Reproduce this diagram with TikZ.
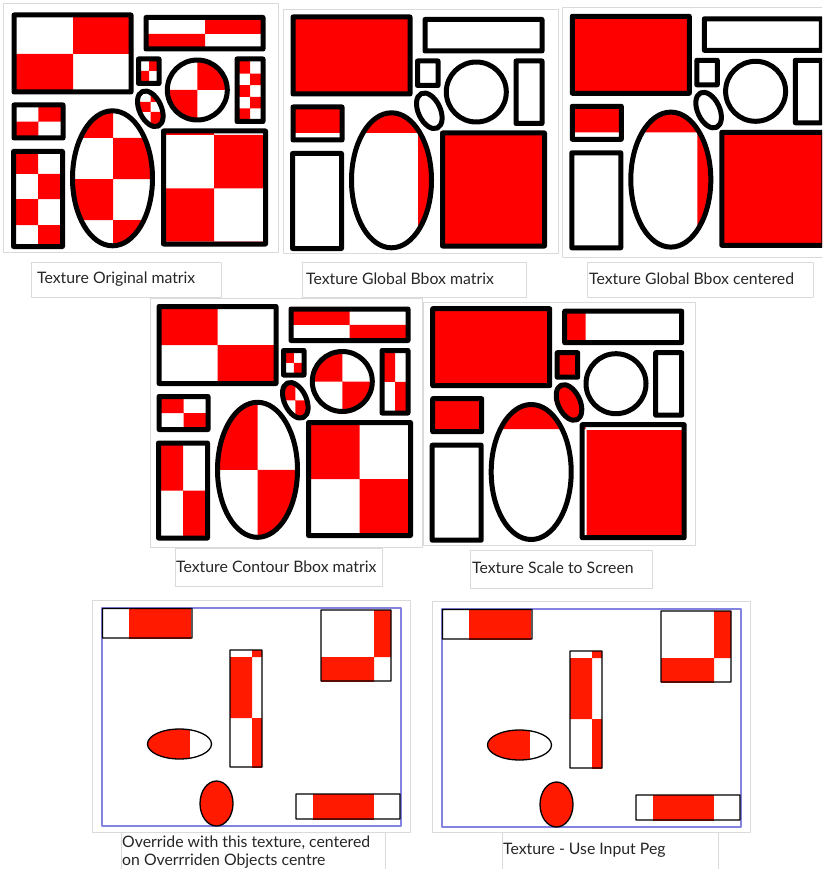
\documentclass[tikz,border=0pt]{standalone}
\usepackage{fontspec}
\setmainfont{Lato}
\usepackage{tikz}
\usepackage{xcolor}

\definecolor{texred}{HTML}{FF0000}
\definecolor{pegred}{HTML}{FF1A00}
\definecolor{frameblue}{HTML}{8484E0}
\definecolor{paneledge}{HTML}{DADADA}
\definecolor{captext}{HTML}{262626}

\newcommand{\shA}{(14,15) rectangle (131,92)}
\newcommand{\shB}{(146,17.5) rectangle (263,49)}
\newcommand{\shC}{(138.5,59) rectangle (159,83.5)}
\newcommand{\shD}{(197.3,90) circle [radius=30]}
\newcommand{\shE}{(237,59) rectangle (263,121.5)}
\newcommand{\shF}{(150.3,108.8) circle [x radius=11, y radius=19, rotate=25]}
\newcommand{\shG}{(14,105) rectangle (63,138)}
\newcommand{\shH}{(112.5,178.3) circle [x radius=40, y radius=67.5]}
\newcommand{\shI}{(13.5,151.5) rectangle (62.5,246.5)}
\newcommand{\shJ}{(163.5,131) rectangle (265.5,244)}
\newcommand{\allsh}{\shA \shB \shC \shD \shE \shF \shG \shH \shI \shJ}

\newcommand{\pgA}{(102.5,608.5) rectangle (192,638)}
\newcommand{\pgB}{(321,610) rectangle (391,681)}
\newcommand{\pgC}{(230,650) rectangle (262,767)}
\newcommand{\pgD}{(179.5,744) circle [x radius=32, y radius=15]}
\newcommand{\pgE}{(216.5,803.5) circle [x radius=16.5, y radius=22.5]}
\newcommand{\pgF}{(296,794) rectangle (400,819)}

\newcommand{\contourfill}[2]{\begin{scope}\clip #1; \fill[texred] #2 rectangle ++(-70,-80) #2 rectangle ++(70,80);\end{scope}}

\newcommand{\pegscene}{%
\draw[draw=frameblue, line width=1.2pt] (102,608) rectangle (401,826);
\begin{scope}\clip \pgA; \fill[pegred] (129,600) rectangle (191,645); \end{scope}
\begin{scope}\clip \pgB; \fill[pegred] (374,605) rectangle (395,657) (315,657) rectangle (374,685); \end{scope}
\begin{scope}\clip \pgC; \fill[pegred] (252,645) rectangle (265,657) (225,657) rectangle (252,718) (252,718) rectangle (265,770); \end{scope}
\begin{scope}\clip \pgD; \fill[pegred] (140,725) rectangle (190,765); \end{scope}
\fill[pegred] \pgE;
\begin{scope}\clip \pgF; \fill[pegred] (313,790) rectangle (374,825); \end{scope}
\draw[thinline] \pgA \pgB \pgC \pgD \pgE \pgF;
}

\begin{document}
\begin{tikzpicture}[
    x=1pt,
    y=-1pt,
    line join=round,
    font=\fontsize{15.8}{18}\selectfont,
    text=captext
]

\tikzstyle{outline}=[draw=black, line width=5pt]
\tikzstyle{thinline}=[draw=black, line width=1.3pt]
\tikzstyle{panel}=[draw=paneledge, line width=0.8pt]
\tikzstyle{caption}=[anchor=west, inner sep=0pt, align=left]

\useasboundingbox (0,0) rectangle (822,869);
\clip (0,0) rectangle (822,869);

\draw[panel] (3,3) rectangle (278,252);
\draw[panel] (283,9) rectangle (558,253);
\draw[panel] (562,7) rectangle (830,257);
\draw[panel] (150,298) rectangle (422,547);
\draw[panel] (423,302) rectangle (695,545);
\draw[panel] (92,600) rectangle (410,832);
\draw[panel] (432,601) rectangle (750,832);

\draw[panel] (31,262) rectangle (221,297);
\draw[panel] (302,262) rectangle (526,297);
\draw[panel] (587,262) rectangle (813,297);
\draw[panel] (175,548) rectangle (382,586);
\draw[panel] (470,550) rectangle (652,588);
\draw[panel] (121,832) rectangle (385,869);
\draw[panel] (502,832) rectangle (718,869);

% original matrix
\begin{scope}
\begin{scope}\clip \shA; \fill[texred] (73,0) rectangle (140,54) (0,54) rectangle (73,100); \end{scope}
\begin{scope}\clip \shB; \fill[texred] (205,0) rectangle (270,34) (140,34) rectangle (205,55); \end{scope}
\begin{scope}\clip \shC; \fill[texred] (149,55) rectangle (165,71) (135,71) rectangle (149,90); \end{scope}
\begin{scope}\clip \shD; \fill[texred] (197.3,55) rectangle (235,90) (160,90) rectangle (197.3,125); \end{scope}
\begin{scope}\clip \shE; \fill[texred] (230,55) rectangle (250,73.6) (230,85.2) rectangle (250,96.8) (230,108.4) rectangle (250,125)
  (250,73.6) rectangle (270,85.2) (250,96.8) rectangle (270,108.4); \end{scope}
\begin{scope}\clip \shF; \fill[texred] (150.7,85) rectangle (170,102) (130,102) rectangle (150.7,112) (150.7,112) rectangle (170,135); \end{scope}
\begin{scope}\clip \shG; \fill[texred] (38.3,100) rectangle (70,121.7) (10,121.7) rectangle (38.3,145); \end{scope}
\begin{scope}\clip \shH; \fill[texred] (60,100) rectangle (113,138) (60,179) rectangle (113,220) (113,138) rectangle (160,179) (113,220) rectangle (160,260); \end{scope}
\begin{scope}\clip \shI; \fill[texred] (5,145) rectangle (38,174) (5,199) rectangle (38,225) (38,174) rectangle (70,199) (38,225) rectangle (70,255); \end{scope}
\begin{scope}\clip \shJ; \fill[texred] (160,125) rectangle (214,135) (214,135) rectangle (270,188.3) (160,188.3) rectangle (214,241.6) (214,241.6) rectangle (270,250); \end{scope}
\draw[outline] \allsh;
\end{scope}

% global bbox matrix
\begin{scope}[shift={(279,2)}]
\begin{scope}\clip \allsh; \fill[texred] (0,0) rectangle (139,131) (139,131) rectangle (280,260); \end{scope}
\draw[outline] \allsh;
\end{scope}

% global bbox centered
\begin{scope}[shift={(558.3,1.3)}]
\begin{scope}\clip \allsh; \fill[texred] (0,0) rectangle (139,131) (139,131) rectangle (280,260); \end{scope}
\draw[outline] \allsh;
\end{scope}

% contour bbox matrix
\begin{scope}[shift={(145,291.5)}]
\contourfill{\shA}{(72.5,53.5)}
\contourfill{\shB}{(204.5,33.25)}
\contourfill{\shC}{(148.75,71.25)}
\contourfill{\shD}{(197.3,90)}
\contourfill{\shE}{(250,90.25)}
\contourfill{\shF}{(150.3,108.8)}
\contourfill{\shG}{(38.5,121.5)}
\contourfill{\shH}{(112.5,178.3)}
\contourfill{\shI}{(38,199)}
\contourfill{\shJ}{(214.5,187.5)}
\draw[outline] \allsh;
\end{scope}

% scale to screen
\begin{scope}[shift={(418.7,293.7)}]
\begin{scope}\clip \allsh; \fill[texred] (0,0) rectangle (167,135.3) (168,136.5) rectangle (280,260); \end{scope}
\draw[outline] \allsh;
\end{scope}

\begin{scope}
\pegscene
\end{scope}
\begin{scope}[shift={(340,1)}]
\pegscene
\end{scope}

\node[caption] (capOrig) at (37,279) {Texture Original matrix};
\node[caption] (capGlobal) at (306,279) {Texture Global Bbox matrix};
\node[caption] (capCentered) at (589,279) {Texture Global Bbox centered};
\node[caption] (capContour) at (176,567) {Texture Contour Bbox matrix};
\node[caption] (capScreen) at (472,568) {Texture Scale to Screen};
\node[caption] (capOverride) at (122,852) {Override with this texture, centered\\on Overrriden Objects centre};
\node[caption] (capPeg) at (503,850) {Texture - Use Input Peg};

\end{tikzpicture}
\end{document}
